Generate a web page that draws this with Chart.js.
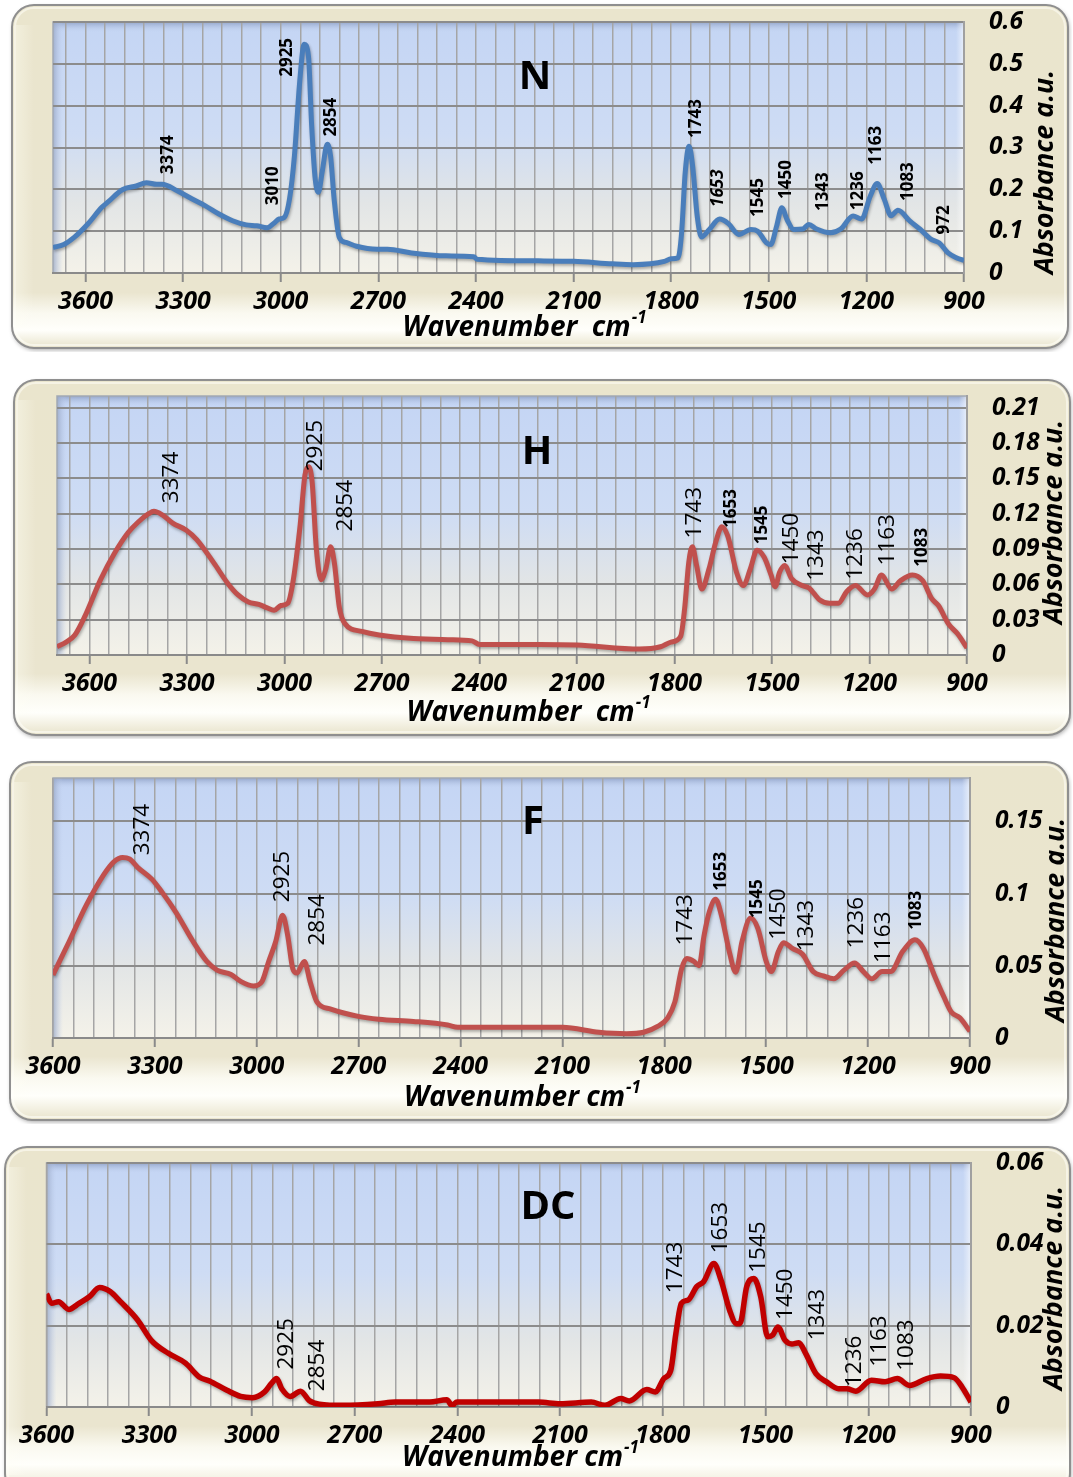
<!DOCTYPE html>
<html>
<head>
<meta charset="utf-8">
<script src="https://cdn.jsdelivr.net/npm/chart.js@4.4.0/dist/chart.umd.min.js"></script>
<style>
  body { margin: 0; background: #fff; width: 1073px; height: 1477px; position: relative; overflow: hidden; }
</style>
</head>
<body>
<script>
// Wavenumber labels shared by all four spectra
const waveTicks = [3600, 3300, 3000, 2700, 2400, 2100, 1800, 1500, 1200, 900];

// ---- N spectrum
const nWave = [3700, 3667, 3635, 3593, 3550, 3529, 3487, 3444, 3413, 3381, 3365, 3317, 3275, 3233, 3190, 3148, 3106, 3074, 3042, 3021,
  3005, 2989, 2973, 2958, 2942, 2928, 2915, 2905, 2894, 2884, 2873, 2857, 2847, 2836, 2820, 2799, 2767, 2704, 2672, 2598,
  2492, 2407, 2397, 2209, 2100, 1981, 1917, 1864, 1821, 1800, 1779, 1768, 1757, 1745, 1734, 1720, 1707, 1683, 1651, 1624,
  1592, 1555, 1534, 1507, 1494, 1476, 1460, 1444, 1423, 1396, 1377, 1353, 1311, 1279, 1241, 1215, 1188, 1167, 1145, 1124,
  1103, 1066, 1034, 1002, 976, 949, 922, 900];
const nAbs = [0.061, 0.068, 0.085, 0.117, 0.157, 0.171, 0.199, 0.208, 0.216, 0.212, 0.212, 0.196, 0.178, 0.161, 0.141, 0.125, 0.115, 0.113, 0.108, 0.119,
  0.129, 0.133, 0.177, 0.28, 0.455, 0.547, 0.519, 0.352, 0.224, 0.193, 0.24, 0.308, 0.28, 0.177, 0.085, 0.073, 0.064, 0.057, 0.057, 0.048,
  0.041, 0.039, 0.033, 0.029, 0.028, 0.022, 0.020, 0.022, 0.028, 0.034, 0.036, 0.096, 0.239, 0.303, 0.255, 0.136, 0.086, 0.104, 0.129, 0.118,
  0.092, 0.104, 0.100, 0.072, 0.068, 0.112, 0.156, 0.128, 0.104, 0.105, 0.116, 0.105, 0.096, 0.105, 0.136, 0.129, 0.184, 0.214, 0.176, 0.137,
  0.150, 0.124, 0.104, 0.081, 0.072, 0.048, 0.036, 0.030];
const nYTicks = [0, 0.1, 0.2, 0.3, 0.4, 0.5, 0.6];
const nPeakText = ['3374', '3010', '2925', '2854', '1743', '1653', '1545', '1450', '1343', '1236', '1163', '1083', '972'];
const nPeakWave = [3347, 3024, 2981, 2844, 1723, 1656, 1534, 1447, 1332, 1226, 1169, 1073, 962];
const nPeakAbs = [0.236, 0.162, 0.469, 0.326, 0.323, 0.158, 0.134, 0.177, 0.148, 0.150, 0.259, 0.172, 0.092];

// ---- H spectrum
const hWave = [3700, 3672, 3645, 3614, 3566, 3524, 3481, 3450, 3418, 3402, 3376, 3344, 3302, 3270, 3217, 3175, 3143, 3111, 3079, 3053,
  3032, 3011, 2990, 2974, 2952, 2937, 2926, 2915, 2902, 2887, 2873, 2858, 2847, 2831, 2815, 2762, 2709, 2603, 2497, 2423,
  2400, 2214, 2100, 1907, 1843, 1811, 1781, 1769, 1756, 1745, 1732, 1716, 1694, 1673, 1654, 1636, 1609, 1588, 1567, 1546,
  1524, 1503, 1490, 1477, 1461, 1440, 1408, 1386, 1354, 1323, 1296, 1270, 1243, 1206, 1185, 1163, 1132, 1105, 1068, 1036,
  1009, 988, 956, 929, 900];
const hAbs = [0.007, 0.011, 0.017, 0.033, 0.064, 0.086, 0.104, 0.113, 0.120, 0.122, 0.119, 0.112, 0.106, 0.098, 0.078, 0.061, 0.051, 0.045, 0.043, 0.040,
  0.038, 0.042, 0.044, 0.062, 0.110, 0.153, 0.160, 0.147, 0.090, 0.064, 0.073, 0.092, 0.079, 0.040, 0.027, 0.020, 0.017, 0.014, 0.013, 0.012,
  0.009, 0.009, 0.0085, 0.005, 0.007, 0.011, 0.016, 0.039, 0.079, 0.092, 0.076, 0.056, 0.073, 0.096, 0.109, 0.101, 0.070, 0.059, 0.073, 0.089,
  0.083, 0.068, 0.058, 0.070, 0.076, 0.065, 0.059, 0.057, 0.047, 0.044, 0.044, 0.054, 0.059, 0.051, 0.056, 0.068, 0.056, 0.063, 0.068, 0.063,
  0.048, 0.042, 0.026, 0.018, 0.006];
const hYTicks = [0, 0.03, 0.06, 0.09, 0.12, 0.15, 0.18, 0.21];
const hPeakText = ['3374', '2925', '2854', '1743', '1653', '1545', '1450', '1343', '1236', '1163', '1083'];
const hPeakWave = [3347, 2905, 2812, 1739, 1625, 1530, 1440, 1363, 1243, 1145, 1039];
const hPeakAbs = [0.129, 0.156, 0.105, 0.099, 0.108, 0.094, 0.077, 0.063, 0.064, 0.076, 0.075];

// ---- F spectrum
const fWave = [3600, 3552, 3502, 3451, 3421, 3395, 3375, 3350, 3309, 3279, 3238, 3188, 3147, 3117, 3076, 3046, 3010, 2985, 2965, 2944,
  2924, 2909, 2894, 2882, 2860, 2843, 2823, 2782, 2701, 2641, 2539, 2438, 2408, 2166, 2100, 1993, 1912, 1861, 1820, 1790,
  1769, 1749, 1734, 1713, 1698, 1683, 1668, 1649, 1632, 1607, 1590, 1571, 1546, 1525, 1500, 1485, 1464, 1449, 1423, 1393,
  1362, 1332, 1301, 1271, 1240, 1214, 1189, 1159, 1134, 1098, 1062, 1037, 1006, 976, 955, 930, 900];
const fAbs = [0.0437, 0.067, 0.092, 0.113, 0.122, 0.125, 0.124, 0.118, 0.110, 0.101, 0.087, 0.067, 0.053, 0.047, 0.044, 0.039, 0.036, 0.039, 0.053, 0.067,
  0.085, 0.071, 0.048, 0.045, 0.053, 0.039, 0.025, 0.020, 0.015, 0.013, 0.0115, 0.009, 0.0074, 0.0074, 0.0074, 0.004, 0.003, 0.004, 0.008, 0.014,
  0.025, 0.048, 0.055, 0.053, 0.050, 0.071, 0.087, 0.096, 0.085, 0.058, 0.0455, 0.067, 0.083, 0.076, 0.053, 0.046, 0.060, 0.066, 0.062, 0.058,
  0.046, 0.043, 0.041, 0.047, 0.052, 0.046, 0.041, 0.046, 0.046, 0.060, 0.068, 0.062, 0.044, 0.028, 0.018, 0.014, 0.0046];
const fYTicks = [0, 0.05, 0.1, 0.15];
const fPeakText = ['3374', '2925', '2854', '1743', '1653', '1545', '1450', '1343', '1236', '1163', '1083'];
const fPeakWave = [3337, 2924, 2821, 1737, 1632, 1527, 1464, 1380, 1234, 1154, 1059];
const fPeakAbs = [0.1265, 0.094, 0.064, 0.064, 0.102, 0.083, 0.068, 0.060, 0.062, 0.052, 0.075];

// ---- DC spectrum
const dcWave = [3600, 3585, 3565, 3535, 3505, 3475, 3445, 3414, 3384, 3334, 3294, 3244, 3194, 3154, 3124, 3073, 3033, 2998, 2963, 2943,
  2928, 2913, 2888, 2858, 2833, 2803, 2732, 2632, 2582, 2481, 2431, 2416, 2401, 2163, 2100, 2009, 1969, 1923, 1898, 1847,
  1822, 1797, 1777, 1762, 1746, 1726, 1701, 1681, 1651, 1630, 1605, 1585, 1575, 1555, 1534, 1514, 1494, 1479, 1464, 1443,
  1423, 1403, 1383, 1353, 1322, 1287, 1262, 1236, 1191, 1151, 1115, 1080, 1029, 989, 949, 923, 900];
const dcAbs = [0.0278, 0.0255, 0.0259, 0.024, 0.0255, 0.0271, 0.0294, 0.0284, 0.0259, 0.0214, 0.0164, 0.0132, 0.0108, 0.0074, 0.0064, 0.0041, 0.0026, 0.0023, 0.0037, 0.0058,
  0.007, 0.0045, 0.0026, 0.0039, 0.0016, 0.0007, 0.0004, 0.0008, 0.0012, 0.0012, 0.0018, 0.0004, 0.0012, 0.0012, 0.0008, 0.0012, 0.0004, 0.0021, 0.0015, 0.0043,
  0.0037, 0.007, 0.009, 0.018, 0.0255, 0.0263, 0.0296, 0.0308, 0.0353, 0.0312, 0.0238, 0.0205, 0.0205, 0.0296, 0.0316, 0.0271, 0.0173, 0.0177, 0.0197, 0.0164,
  0.0155, 0.0158, 0.0132, 0.0082, 0.0062, 0.0045, 0.0045, 0.0039, 0.0066, 0.0062, 0.007, 0.0053, 0.007, 0.0076, 0.0072, 0.0045, 0.0012];
const dcYTicks = [0, 0.02, 0.04, 0.06];
const dcPeakText = ['2925', '2854', '1743', '1653', '1545', '1450', '1343', '1236', '1163', '1083'];
const dcPeakWave = [2900, 2808, 1762, 1630, 1519, 1441, 1347, 1239, 1166, 1087];
const dcPeakAbs = [0.0092, 0.0039, 0.028, 0.0378, 0.033, 0.0214, 0.0164, 0.0049, 0.0099, 0.0089];

const FONT = "'Open Sans', 'DejaVu Sans', sans-serif";

function roundRect(ctx, x, y, w, h, r) {
  ctx.beginPath();
  ctx.moveTo(x + r, y);
  ctx.arcTo(x + w, y, x + w, y + h, r);
  ctx.arcTo(x + w, y + h, x, y + h, r);
  ctx.arcTo(x, y + h, x, y, r);
  ctx.arcTo(x, y, x + w, y, r);
  ctx.closePath();
}

// draws one framed spectrum; layout is in page pixels
function drawSpectrum(L, wave, abs, yTicks, peakText, peakWave, peakAbs) {
  const cx = L.panel[0] - 4, cy = L.panel[1] - 4;
  const cr = Math.min(L.panel[2] + 4, 1073), cb = Math.min(L.panel[3] + 4, 1477);
  const box = document.createElement('div');
  box.style.cssText = `position:absolute;left:${cx}px;top:${cy}px;width:${cr - cx}px;height:${cb - cy}px`;
  const cv = document.createElement('canvas');
  box.appendChild(cv);
  document.body.appendChild(box);

  const yAxisW = cr - L.plot[2];
  const xAxisH = cb - L.plot[3];

  const deco = {
    id: 'deco',
    beforeDraw(chart) {
      const ctx = chart.ctx, a = chart.chartArea;
      const px = L.panel[0] - cx, py = L.panel[1] - cy;
      const pw = L.panel[2] - L.panel[0], ph = L.panel[3] - L.panel[1];
      ctx.save();
      // frame
      ctx.shadowColor = 'rgba(0,0,0,0.35)';
      ctx.shadowBlur = 4; ctx.shadowOffsetX = 1; ctx.shadowOffsetY = 2;
      roundRect(ctx, px, py, pw, ph, 22);
      const glow = Math.min((L.plot[3] + 40 - L.panel[1]) / ph, 0.9);
      const g = ctx.createLinearGradient(0, py, 0, py + ph);
      g.addColorStop(0, '#EAE5CD');
      g.addColorStop(glow - 0.06, '#EAE5CF');
      g.addColorStop(glow, '#FAF9F0');
      g.addColorStop(Math.min(glow + 0.05, 0.97), '#FFFFFB');
      g.addColorStop(1, '#E8E3CB');
      ctx.fillStyle = g;
      ctx.fill();
      ctx.shadowColor = 'transparent';
      ctx.lineWidth = 2; ctx.strokeStyle = '#8F8F8F';
      ctx.stroke();
      roundRect(ctx, px + 3, py + 3, pw - 6, ph - 6, 19);
      ctx.lineWidth = 2; ctx.strokeStyle = 'rgba(255,255,250,0.55)';
      ctx.stroke();
      const lg = ctx.createLinearGradient(px, 0, px + 22, 0);
      lg.addColorStop(0, 'rgba(255,255,245,0.45)');
      lg.addColorStop(1, 'rgba(255,255,245,0)');
      ctx.fillStyle = lg;
      ctx.fillRect(px + 4, py + 20, 18, ph - 40);

      // plot area
      const pg = ctx.createLinearGradient(0, a.top, 0, a.bottom);
      pg.addColorStop(0, '#C4D5F4');
      pg.addColorStop(0.45, '#CEDCF4');
      pg.addColorStop(0.72, '#E2E5E6');
      pg.addColorStop(1, '#F4F2E9');
      ctx.fillStyle = pg;
      ctx.fillRect(a.left, a.top, a.width, a.height);
      const tb = ctx.createLinearGradient(0, a.top, 0, a.top + 10);
      tb.addColorStop(0, 'rgba(140,158,195,0.85)');
      tb.addColorStop(1, 'rgba(190,205,235,0)');
      ctx.fillStyle = tb;
      ctx.fillRect(a.left, a.top, a.width, 10);
      const lb = ctx.createLinearGradient(a.left, 0, a.left + 10, 0);
      lb.addColorStop(0, 'rgba(150,165,195,0.8)');
      lb.addColorStop(1, 'rgba(190,205,235,0)');
      ctx.fillStyle = lb;
      ctx.fillRect(a.left, a.top, 10, a.height);
      const rb = ctx.createLinearGradient(a.right - 8, 0, a.right, 0);
      rb.addColorStop(0, 'rgba(255,255,255,0)');
      rb.addColorStop(1, 'rgba(255,255,255,0.6)');
      ctx.fillStyle = rb;
      ctx.fillRect(a.right - 8, a.top, 8, a.height);
      ctx.lineWidth = 1.5; ctx.strokeStyle = '#A3A9B4';
      ctx.strokeRect(a.left, a.top, a.width, a.height);
      ctx.restore();
    },
    beforeDatasetsDraw(chart) {
      const ctx = chart.ctx;
      ctx.save();
      ctx.shadowColor = 'rgba(0,0,0,0.3)';
      ctx.shadowBlur = 3; ctx.shadowOffsetX = 1; ctx.shadowOffsetY = 2;
    },
    afterDatasetsDraw(chart) {
      const ctx = chart.ctx;
      ctx.restore();
      const xs = chart.scales.x, ys = chart.scales.y;
      ctx.save();
      ctx.fillStyle = '#000';
      ctx.textAlign = 'left';
      ctx.textBaseline = 'middle';
      peakText.forEach((t, i) => {
        const bold = L.bold.includes(t);
        const ital = L.italic.includes(t);
        const size = bold ? L.boldSize : L.peakSize;
        ctx.font = `${ital ? 'italic ' : ''}${bold ? 'bold ' : ''}${size}px ${FONT}`;
        ctx.save();
        ctx.translate(xs.getPixelForValue(peakWave[i]), ys.getPixelForValue(peakAbs[i]));
        ctx.rotate(-Math.PI / 2);
        ctx.fillText(t, 0, 0);
        ctx.restore();
      });
      ctx.restore();
    },
    afterDraw(chart) {
      const ctx = chart.ctx;
      ctx.save();
      ctx.fillStyle = '#000';
      // sample letter
      ctx.font = `bold 40px ${FONT}`;
      ctx.textAlign = 'center';
      ctx.textBaseline = 'middle';
      ctx.fillText(L.name, L.title[0] - cx, L.title[1] - cy);
      // x axis title with superscript
      const main = L.xTitle[2];
      ctx.font = `italic bold 28px ${FONT}`;
      const w1 = ctx.measureText(main).width;
      ctx.font = `italic bold 17px ${FONT}`;
      const w2 = ctx.measureText('-1').width;
      const x0 = L.xTitle[0] - cx - (w1 + w2) / 2;
      const y0 = L.xTitle[1] - cy;
      ctx.textAlign = 'left';
      ctx.font = `italic bold 28px ${FONT}`;
      ctx.fillText(main, x0, y0);
      ctx.font = `italic bold 17px ${FONT}`;
      ctx.fillText('-1', x0 + w1 + 1, y0 - 10);
      // y axis title
      ctx.font = `italic bold 27px ${FONT}`;
      ctx.textAlign = 'center';
      ctx.translate(L.yTitle[0] - cx, L.yTitle[1] - cy);
      ctx.rotate(-Math.PI / 2);
      ctx.fillText('Absorbance a.u.', 0, 0);
      ctx.restore();
    }
  };

  new Chart(cv, {
    type: 'line',
    data: {
      datasets: [{
        data: wave.map((w, i) => ({ x: w, y: abs[i] })),
        borderColor: L.color,
        borderWidth: L.lineW,
        pointRadius: 0,
        fill: false,
        cubicInterpolationMode: 'monotone'
      }]
    },
    plugins: [deco],
    options: {
      responsive: true,
      maintainAspectRatio: false,
      animation: false,
      devicePixelRatio: 1,
      layout: { padding: { left: L.plot[0] - cx, top: L.plot[1] - cy, right: 0, bottom: 0 } },
      plugins: { legend: { display: false }, tooltip: { enabled: false } },
      scales: {
        x: {
          type: 'linear',
          reverse: true,
          min: 900,
          max: L.xMax,
          afterBuildTicks: s => {
            const t = [];
            for (let v = 900; v <= L.xMax; v += 60) t.push({ value: v });
            s.ticks = t;
          },
          afterFit: s => { s.height = xAxisH; s.paddingLeft = 0; s.paddingRight = 0; },
          grid: {
            color: '#A5A5A5',
            lineWidth: 1.5,
            tickLength: 9,
            tickColor: c => (c.tick && waveTicks.includes(c.tick.value)) ? '#8A8A8A' : 'rgba(0,0,0,0)',
            tickWidth: 2
          },
          border: { display: true, color: '#8A8A8A', width: 2 },
          ticks: {
            autoSkip: false,
            maxRotation: 0,
            padding: 5,
            color: '#000',
            font: { family: FONT, size: 25, weight: 'bold', style: 'italic' },
            callback: v => waveTicks.includes(v) ? String(v) : ''
          }
        },
        y: {
          position: 'right',
          min: 0,
          max: L.yMax,
          afterBuildTicks: s => { s.ticks = yTicks.map(v => ({ value: v })); },
          afterFit: s => { s.width = yAxisW; s.paddingTop = 0; s.paddingBottom = 0; },
          grid: { color: '#8C8C8C', lineWidth: 2, drawTicks: false },
          border: { display: true, color: '#A0A0A0', width: 2 },
          ticks: {
            padding: 25,
            color: '#000',
            font: { family: FONT, size: 24.5, weight: 'bold', style: 'italic' },
            callback: v => String(v)
          }
        }
      }
    }
  });
}

drawSpectrum({ name: 'N', panel: [12, 5, 1068, 348], plot: [53, 22, 964, 273], xMax: 3700, yMax: 0.6,
  title: [535, 78], xTitle: [524, 328, 'Wavenumber  cm'], yTitle: [1045, 172],
  color: '#4A7EBB', lineW: 5, peakSize: 17, boldSize: 17,
  bold: nPeakText, italic: ['1653'] }, nWave, nAbs, nYTicks, nPeakText, nPeakWave, nPeakAbs);

drawSpectrum({ name: 'H', panel: [14, 380, 1070, 735], plot: [57, 396, 967, 655], xMax: 3700, yMax: 0.22,
  title: [537, 453], xTitle: [528, 713, 'Wavenumber  cm'], yTitle: [1054, 522],
  color: '#C0504D', lineW: 5, peakSize: 22.5, boldSize: 17,
  bold: ['1653', '1545', '1083'], italic: [] }, hWave, hAbs, hYTicks, hPeakText, hPeakWave, hPeakAbs);

drawSpectrum({ name: 'F', panel: [10, 762, 1068, 1120], plot: [53, 778, 970, 1038], xMax: 3600, yMax: 0.18,
  title: [533, 823], xTitle: [522, 1098, 'Wavenumber cm'], yTitle: [1056, 920],
  color: '#C0504D', lineW: 5, peakSize: 22.5, boldSize: 17,
  bold: ['1653', '1545', '1083'], italic: [] }, fWave, fAbs, fYTicks, fPeakText, fPeakWave, fPeakAbs);

drawSpectrum({ name: 'DC', panel: [5, 1147, 1070, 1495], plot: [46.5, 1163, 971, 1407], xMax: 3600, yMax: 0.06,
  title: [548, 1208], xTitle: [520, 1458, 'Wavenumber cm'], yTitle: [1054, 1288],
  color: '#C00000', lineW: 5.5, peakSize: 22.5, boldSize: 17,
  bold: [], italic: [] }, dcWave, dcAbs, dcYTicks, dcPeakText, dcPeakWave, dcPeakAbs);
</script>
</body>
</html>
